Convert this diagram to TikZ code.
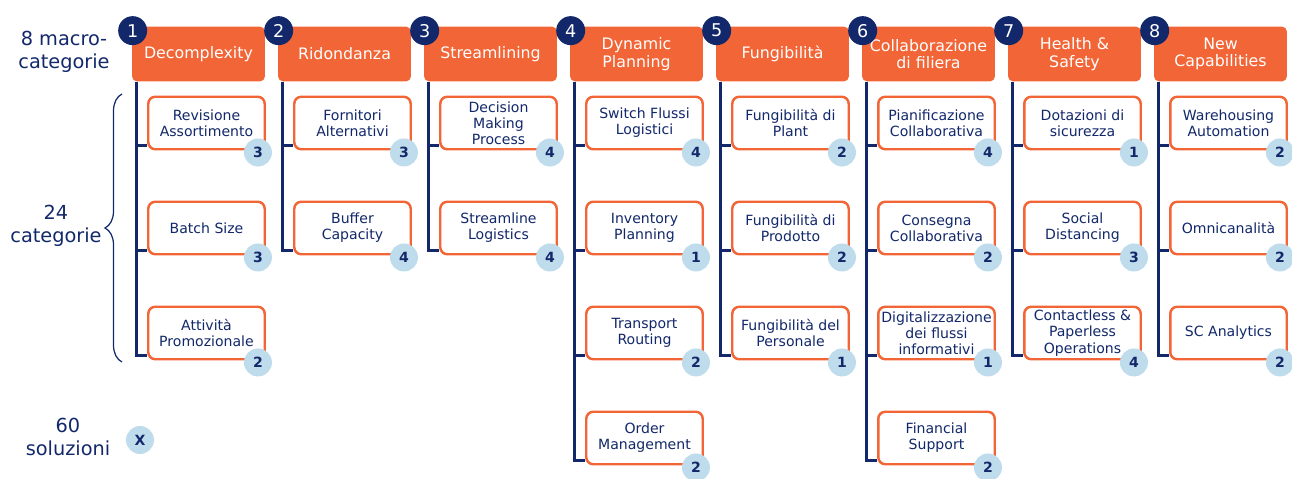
\documentclass[tikz,border=0pt]{standalone}
\usepackage{fontspec}
\setmainfont{DejaVu Sans}
\usetikzlibrary{decorations.pathreplacing}
\definecolor{arancio}{HTML}{F26536}
\definecolor{navy}{HTML}{12286A}
\definecolor{celeste}{HTML}{BEDCEC}

\begin{document}
\begin{tikzpicture}[x=0.02cm, y=-0.02cm,
    macro/.style={fill=arancio, rounded corners=3pt, minimum width=2.66cm, minimum height=1.1cm,
      inner sep=1pt, text=white, align=center, font=\fontsize{9}{10}\selectfont},
    cat/.style={draw=arancio, line width=1.4pt, fill=white, rounded corners=4pt, minimum width=2.33cm,
      minimum height=1.05cm, inner sep=1pt, text=navy, align=center, font=\fontsize{8}{9.2}\selectfont},
    numero/.style={circle, fill=navy, text=white, minimum size=0.58cm, inner sep=0pt, font=\fontsize{10}{10}\selectfont},
    badge/.style={circle, fill=celeste, text=navy, minimum size=0.56cm, inner sep=0pt, font=\bfseries\fontsize{8}{8}\selectfont},
    tronco/.style={navy, line width=1.6pt},
    lato/.style={text=navy, align=center, font=\fontsize{11}{13}\selectfont}]
  \useasboundingbox (0,0) rectangle (1292,479);

  % Macro-categorie
  \foreach \c/\nome in {1/Decomplexity, 2/Ridondanza, 3/Streamlining, 4/{Dynamic\\Planning},
      5/Fungibilità, 6/{Collaborazione\\di filiera}, 7/{Health \&\\Safety}, 8/{New\\Capabilities}} {
    \node[macro] (h\c) at ({198.5+146*(\c-1)}, 54) {\nome};
    \node[numero] (n\c) at ([xshift=0.02cm, yshift=-0.09cm]h\c.north west) {\c};
  }

  % Categorie
  \foreach \c/\r/\testo/\k in {
      1/1/{Revisione\\Assortimento}/3, 1/2/{Batch Size}/3, 1/3/{Attività\\Promozionale}/2,
      2/1/{Fornitori\\Alternativi}/3, 2/2/{Buffer\\Capacity}/4,
      3/1/{Decision\\Making\\Process}/4, 3/2/{Streamline\\Logistics}/4,
      4/1/{Switch Flussi\\Logistici}/4, 4/2/{Inventory\\Planning}/1, 4/3/{Transport\\Routing}/2, 4/4/{Order\\Management}/2,
      5/1/{Fungibilità di\\Plant}/2, 5/2/{Fungibilità di\\Prodotto}/2, 5/3/{Fungibilità del\\Personale}/1,
      6/1/{Pianificazione\\Collaborativa}/4, 6/2/{Consegna\\Collaborativa}/2,
      6/3/{Digitalizzazione\\dei flussi\\informativi}/1, 6/4/{Financial\\Support}/2,
      7/1/{Dotazioni di\\sicurezza}/1, 7/2/{Social\\Distancing}/3, 7/3/{Contactless \&\\Paperless\\Operations}/4,
      8/1/{Warehousing\\Automation}/2, 8/2/{Omnicanalità}/2, 8/3/{SC Analytics}/2} {
    \node[cat] (s\c-\r) at ({206.5+146*(\c-1)}, {123+105*(\r-1)}) {\testo};
    \draw[tronco] ([xshift=0.1cm]h\c.south west) |- ([yshift=0.1cm]s\c-\r.south west);
    \node[badge] (b\c-\r) at ([xshift=-0.16cm, yshift=-0.04cm]s\c-\r.south east) {\k};
  }

  % Legenda
  \node[lato] (lmacro) at (64, 52) {8 macro-\\categorie};
  \node[lato] (lcat) at (56, 226) {24\\categorie};
  \node[lato] (lsol) at (68, 437) {60\\soluzioni};
  \node[badge] (bx) at (140, 440) {X};
  \draw[navy, line width=0.7pt, decorate, decoration={brace, amplitude=0.34cm}] (122, 362) -- (122, 94);
\end{tikzpicture}
\end{document}
